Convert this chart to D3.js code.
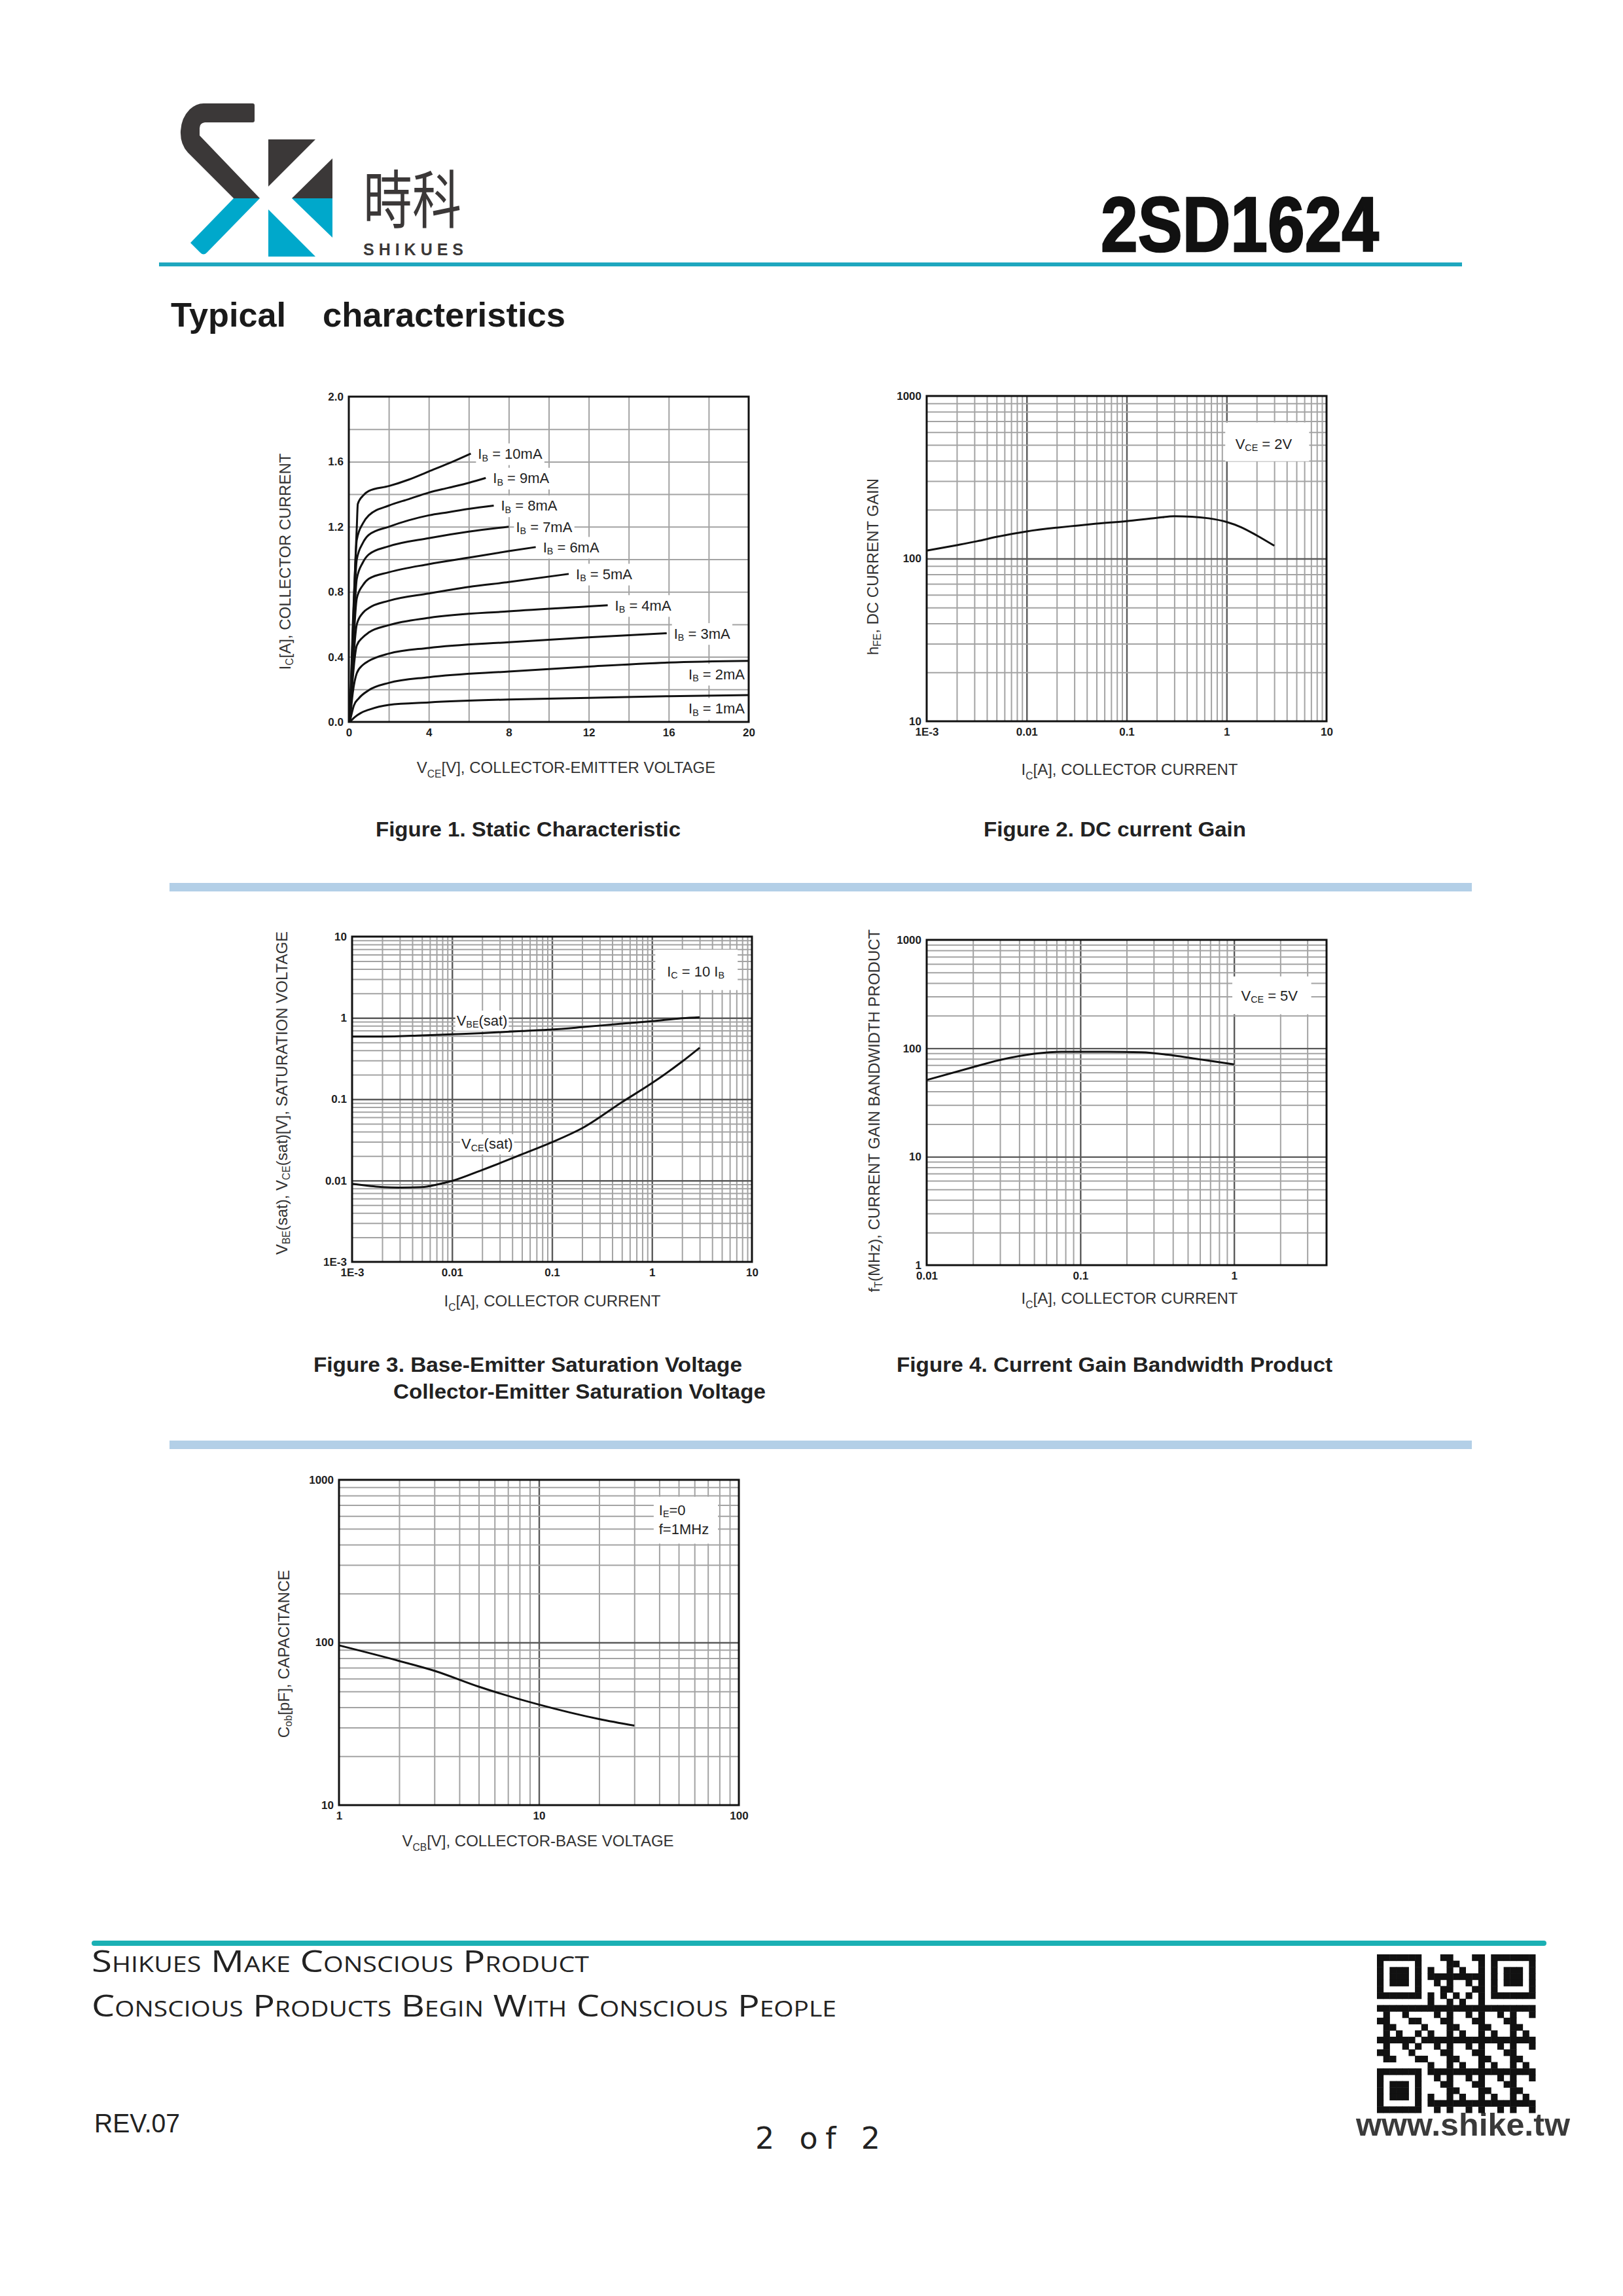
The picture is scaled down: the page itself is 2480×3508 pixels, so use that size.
<!DOCTYPE html>
<html>
<head>
<meta charset="utf-8">
<script src="https://cdn.jsdelivr.net/npm/d3@7"></script>
<style>
  html, body { margin: 0; padding: 0; background: #fff; }
  svg { display: block; }
</style>
</head>
<body>
<script>
// ---- values ----

// Figure 1: static characteristic, one curve per base current
const ibSteps = ["10mA", "9mA", "8mA", "7mA", "6mA", "5mA", "4mA", "3mA", "2mA", "1mA"];
const fig1Vce = [
  [0.05, 0.2, 0.4, 0.45, 0.7, 1, 2, 3, 4, 5, 6.1],
  [0.05, 0.2, 0.4, 0.7, 1, 2, 3, 4, 5, 6, 6.85],
  [0.05, 0.2, 0.4, 0.7, 1, 2, 3, 4, 5, 6, 7.25],
  [0.05, 0.2, 0.4, 0.7, 1, 2, 4, 6, 8],
  [0.05, 0.2, 0.4, 0.7, 1, 2, 4, 6, 8, 9.35],
  [0.05, 0.2, 0.4, 0.7, 1, 2, 4, 6, 8, 11],
  [0.05, 0.2, 0.4, 0.7, 1, 2, 4, 8, 12, 12.95],
  [0.05, 0.2, 0.4, 0.7, 1, 2, 4, 8, 12, 15.9],
  [0.05, 0.25, 0.5, 1, 2, 4, 8, 12, 16, 20],
  [0.05, 0.3, 0.6, 1, 2, 4, 8, 12, 16, 20]
];
const fig1Ic = [
  [0, 0.6, 1.2, 1.34, 1.39, 1.42, 1.45, 1.49, 1.54, 1.59, 1.65],
  [0, 0.55, 1.12, 1.22, 1.27, 1.33, 1.37, 1.41, 1.44, 1.47, 1.50],
  [0, 0.5, 1.0, 1.1, 1.15, 1.2, 1.24, 1.27, 1.29, 1.31, 1.33],
  [0, 0.45, 0.88, 0.98, 1.03, 1.08, 1.13, 1.17, 1.20],
  [0, 0.4, 0.76, 0.84, 0.88, 0.92, 0.97, 1.01, 1.05, 1.075],
  [0, 0.33, 0.6, 0.67, 0.70, 0.745, 0.79, 0.83, 0.86, 0.91],
  [0, 0.27, 0.47, 0.52, 0.55, 0.595, 0.64, 0.68, 0.71, 0.717],
  [0, 0.18, 0.30, 0.35, 0.375, 0.42, 0.455, 0.49, 0.52, 0.545],
  [0, 0.1, 0.145, 0.195, 0.24, 0.275, 0.31, 0.34, 0.365, 0.375],
  [0, 0.03, 0.055, 0.075, 0.105, 0.12, 0.138, 0.148, 0.158, 0.165]
];
const fig1XTicks = [0, 4, 8, 12, 16, 20];
const fig1XLabels = ["0", "4", "8", "12", "16", "20"];
const fig1YTicks = [0, 0.4, 0.8, 1.2, 1.6, 2.0];
const fig1YLabels = ["0.0", "0.4", "0.8", "1.2", "1.6", "2.0"];

// Figure 2: DC current gain
const fig2Ic = [0.001, 0.002, 0.0032, 0.005, 0.01, 0.02, 0.03, 0.05, 0.1, 0.2, 0.3, 0.45, 0.66, 1.0, 1.4, 2.0, 3.0];
const fig2Hfe = [112, 121, 128, 136, 147, 155, 159, 164, 170, 178, 182, 181, 177, 168, 156, 139, 120];

// Figure 3: saturation voltages
const fig3IcBe = [0.001, 0.002, 0.005, 0.01, 0.02, 0.05, 0.1, 0.2, 0.5, 1, 2, 3];
const fig3Vbe = [0.59, 0.59, 0.61, 0.63, 0.65, 0.69, 0.72, 0.77, 0.85, 0.91, 0.99, 1.02];
const fig3IcCe = [0.001, 0.0015, 0.002, 0.003, 0.005, 0.007, 0.01, 0.02, 0.05, 0.1, 0.2, 0.5, 1, 2, 3];
const fig3Vce = [0.0091, 0.0086, 0.0083, 0.0082, 0.0083, 0.0089, 0.0099, 0.0135, 0.021, 0.0296, 0.044, 0.092, 0.158, 0.29, 0.43];

// Figure 4: current gain bandwidth product
const fig4Ic = [0.01, 0.02, 0.03, 0.05, 0.075, 0.1, 0.15, 0.25, 0.4, 0.6, 1.0];
const fig4Ft = [51, 67, 78, 89, 93, 93, 93, 92, 86, 79, 71];

// Figure 5: output capacitance
const fig5Vcb = [1, 2, 3, 5, 10, 20, 30];
const fig5Cob = [96, 77, 67, 53.5, 41.5, 33.8, 30.8];

// log tick labels
const decadeTicks3 = [0.001, 0.01, 0.1, 1, 10];
const decadeLabels3 = ["1E-3", "0.01", "0.1", "1", "10"];

// ---- page ----
const W = 2480, H = 3508;
const PW = 611, PH = 497;
const FONT = "'Liberation Sans', Arial, Helvetica, sans-serif";

const svg = d3.select("body").append("svg")
  .attr("width", W).attr("height", H)
  .attr("viewBox", `0 0 ${W} ${H}`)
  .attr("font-family", FONT);

svg.append("rect").attr("width", W).attr("height", H).attr("fill", "#fff");

// text with subscripts: parts = [[text, isSub], ...]
function rich(sel, parts, fs) {
  let shift = 0;
  parts.forEach(([t, sub]) => {
    const want = sub ? fs * 0.3 : 0;
    sel.append("tspan")
      .attr("font-size", sub ? fs * 0.65 : fs)
      .attr("dy", want - shift)
      .text(t);
    shift = want;
  });
  return sel;
}

function whiteBehind(g, textSel, pad) {
  const b = textSel.node().getBBox();
  g.insert("rect", () => textSel.node())
    .attr("x", b.x - pad).attr("y", b.y - pad)
    .attr("width", b.width + 2 * pad).attr("height", b.height + 2 * pad)
    .attr("fill", "#fff");
}

function logLines(lo, hi) {
  const out = [];
  for (let e = Math.floor(Math.log10(lo)); e <= Math.ceil(Math.log10(hi)); e++) {
    for (let m = 1; m < 10; m++) {
      const v = +(m * Math.pow(10, e)).toPrecision(3);
      if (v > lo * 1.0001 && v < hi * 0.9999) out.push(v);
    }
  }
  return out;
}

function panel(left, top, x, y, opt) {
  const g = svg.append("g").attr("transform", `translate(${left},${top})`);

  const gx = g.append("g").attr("transform", `translate(0,${PH})`)
    .call(d3.axisBottom(x).tickValues(opt.xGrid).tickSize(-PH).tickFormat(""));
  const gy = g.append("g")
    .call(d3.axisLeft(y).tickValues(opt.yGrid).tickSize(-PW).tickFormat(""));
  [gx, gy].forEach(a => {
    a.select(".domain").remove();
    a.selectAll("line").attr("stroke", "#a3a3a3").attr("stroke-width", 2);
  });
  if (opt.major) {
    const dec = [0.001, 0.01, 0.1, 1, 10, 100, 1000];
    gx.selectAll(".tick").filter(d => dec.includes(d))
      .select("line").attr("stroke", "#5a5a5a").attr("stroke-width", 2.4);
    gy.selectAll(".tick").filter(d => dec.includes(d))
      .select("line").attr("stroke", "#5a5a5a").attr("stroke-width", 2.4);
  }

  const tx = g.append("g").attr("transform", `translate(0,${PH})`)
    .call(d3.axisBottom(x).tickValues(opt.xTicks).tickSize(0).tickPadding(10)
      .tickFormat((d, i) => opt.xLabels[i]));
  const ty = g.append("g")
    .call(d3.axisLeft(y).tickValues(opt.yTicks).tickSize(0).tickPadding(8)
      .tickFormat((d, i) => opt.yLabels[i]));
  [tx, ty].forEach(a => {
    a.select(".domain").remove();
    a.attr("font-family", FONT).attr("font-size", 17).attr("font-weight", "bold")
      .attr("color", "#1e1e1e");
  });
  return g;
}

function frame(g) {
  g.append("rect").attr("width", PW).attr("height", PH)
    .attr("fill", "none").attr("stroke", "#111").attr("stroke-width", 3);
}

function yTitle(cx, cy, parts) {
  const t = svg.append("text")
    .attr("transform", `translate(${cx},${cy}) rotate(-90)`)
    .attr("text-anchor", "middle").attr("dominant-baseline", "central")
    .attr("fill", "#333");
  rich(t, parts, 24);
}

function xTitle(cx, by, parts) {
  const t = svg.append("text").attr("x", cx).attr("y", by)
    .attr("text-anchor", "middle").attr("fill", "#333");
  rich(t, parts, 24);
}

function caption(x, by, txt, len) {
  svg.append("text").attr("x", x).attr("y", by)
    .attr("font-size", 31).attr("font-weight", "bold").attr("fill", "#222")
    .attr("textLength", len).attr("lengthAdjust", "spacingAndGlyphs")
    .text(txt);
}

function note(g, x, y, lines, box) {
  g.append("rect")
    .attr("x", x(box[0])).attr("y", y(box[3]))
    .attr("width", x(box[1]) - x(box[0])).attr("height", y(box[2]) - y(box[3]))
    .attr("fill", "#fff");
  lines.forEach(l => {
    const t = g.append("text").attr("x", x(l.at[0])).attr("y", y(l.at[1]))
      .attr("text-anchor", l.anchor || "middle").attr("dominant-baseline", "central")
      .attr("fill", "#222");
    rich(t, l.parts, 22);
  });
}

// ---- header ----
const logoDark = "#3b3838", logoCyan = "#00a8cb";
svg.append("path")
  .attr("d", "M311,158 L386,158 Q389,158 389,161 L389,184 Q389,187 386,187 L313,187 Q305,188 305,196 L305,207 L397,303 L357,303 L287,233 Q275,220 276,200 Q277,180 290,167 Q300,158 311,158 Z")
  .attr("fill", logoDark);
svg.append("path")
  .attr("d", "M357,303 L397,303 L316,386 Q311,391 306,386 L291,371 Z")
  .attr("fill", logoCyan);
svg.append("path").attr("d", "M410,213 L482,213 L410,285 Z").attr("fill", logoDark);
svg.append("path").attr("d", "M508,242 L508,303 L446,303 Z").attr("fill", logoDark);
svg.append("path").attr("d", "M446,303 L508,303 L508,363 Z").attr("fill", logoCyan);
svg.append("path").attr("d", "M410,320 L410,392 L482,392 Z").attr("fill", logoCyan);

svg.append("text").attr("x", 555).attr("y", 340)
  .attr("font-family", "'Noto Sans CJK TC', 'Noto Sans CJK SC', sans-serif")
  .attr("font-size", 96).attr("fill", logoDark)
  .attr("textLength", 150).attr("lengthAdjust", "spacingAndGlyphs")
  .text("時科");
svg.append("text").attr("x", 555).attr("y", 390)
  .attr("font-size", 25).attr("font-weight", "bold").attr("fill", logoDark)
  .attr("textLength", 153).attr("lengthAdjust", "spacing")
  .text("SHIKUES");

svg.append("text").attr("x", 1682).attr("y", 384)
  .attr("font-size", 118).attr("font-weight", "bold").attr("fill", "#111")
  .attr("stroke", "#111").attr("stroke-width", 2.5)
  .attr("textLength", 425).attr("lengthAdjust", "spacingAndGlyphs")
  .text("2SD1624");

svg.append("rect").attr("x", 243).attr("y", 401).attr("width", 1991).attr("height", 6)
  .attr("fill", "#1ea7bf");

svg.append("text").attr("x", 261).attr("y", 499)
  .attr("font-size", 52).attr("font-weight", "bold").attr("fill", "#1a1a1a")
  .attr("textLength", 176).attr("lengthAdjust", "spacingAndGlyphs")
  .text("Typical");
svg.append("text").attr("x", 493).attr("y", 499)
  .attr("font-size", 52).attr("font-weight", "bold").attr("fill", "#1a1a1a")
  .attr("textLength", 371).attr("lengthAdjust", "spacingAndGlyphs")
  .text("characteristics");

// section separators
[1349, 2201].forEach(yy => {
  svg.append("rect").attr("x", 259).attr("y", yy).attr("width", 1990).attr("height", 13)
    .attr("fill", "#b3cfe7");
});

const line = (x, y) => d3.line().x(d => x(d[0])).y(d => y(d[1])).curve(d3.curveMonotoneX);

// ---- Figure 1 ----
{
  const x = d3.scaleLinear().domain([0, 20]).range([0, PW]);
  const y = d3.scaleLinear().domain([0, 2]).range([PH, 0]);
  const g = panel(533, 606, x, y, {
    xGrid: d3.range(2, 20, 2), yGrid: d3.range(1, 10).map(i => i * 0.2),
    xTicks: fig1XTicks, xLabels: fig1XLabels, yTicks: fig1YTicks, yLabels: fig1YLabels
  });

  const labels = g.append("g");
  const curves = g.append("g");
  ibSteps.forEach((ib, k) => {
    const pts = fig1Vce[k].map((v, i) => [v, fig1Ic[k][i]]);
    curves.append("path").attr("d", line(x, y)(pts))
      .attr("fill", "none").attr("stroke", "#111").attr("stroke-width", 3);
    const last = pts[pts.length - 1];
    const t = labels.append("text").attr("dominant-baseline", "central").attr("fill", "#222");
    if (last[0] < 20) {
      t.attr("x", x(last[0]) + 11).attr("y", y(last[1]));
    } else {
      t.attr("x", PW - 6).attr("y", y(last[1]) + 20).attr("text-anchor", "end");
    }
    rich(t, [["I"], ["B", 1], [" = " + ib]], 22);
    whiteBehind(labels, t, 3);
  });
  frame(g);

  yTitle(435, 858, [["I"], ["C", 1], ["[A], COLLECTOR CURRENT"]]);
  xTitle(865, 1181, [["V"], ["CE", 1], ["[V], COLLECTOR-EMITTER VOLTAGE"]]);
  caption(574, 1278, "Figure 1. Static Characteristic", 466);
}

// ---- Figure 2 ----
{
  const x = d3.scaleLog().domain([0.001, 10]).range([0, PW]);
  const y = d3.scaleLog().domain([10, 1000]).range([PH, 0]);
  const g = panel(1416, 605, x, y, {
    xGrid: logLines(0.001, 10), yGrid: logLines(10, 1000), major: true,
    xTicks: decadeTicks3, xLabels: decadeLabels3,
    yTicks: [10, 100, 1000], yLabels: ["10", "100", "1000"]
  });
  note(g, x, y, [{ at: [2.35, 509], parts: [["V"], ["CE", 1], [" = 2V"]] }], [0.97, 6.7, 397, 687]);
  g.append("path").attr("d", line(x, y)(fig2Ic.map((c, i) => [c, fig2Hfe[i]])))
    .attr("fill", "none").attr("stroke", "#111").attr("stroke-width", 3);
  frame(g);

  yTitle(1333, 866, [["h"], ["FE", 1], [", DC CURRENT GAIN"]]);
  xTitle(1726, 1184, [["I"], ["C", 1], ["[A], COLLECTOR CURRENT"]]);
  caption(1503, 1278, "Figure 2. DC current Gain", 401);
}

// ---- Figure 3 ----
{
  const x = d3.scaleLog().domain([0.001, 10]).range([0, PW]);
  const y = d3.scaleLog().domain([0.001, 10]).range([PH, 0]);
  const g = panel(538, 1431, x, y, {
    xGrid: logLines(0.001, 10), yGrid: logLines(0.001, 10), major: true,
    xTicks: decadeTicks3, xLabels: decadeLabels3,
    yTicks: decadeTicks3, yLabels: decadeLabels3
  });
  note(g, x, y, [{ at: [2.74, 3.77], parts: [["I"], ["C", 1], [" = 10 I"], ["B", 1]] }], [1.08, 7.2, 2.2, 6.9]);
  const lb = g.append("g");
  const t1 = lb.append("text").attr("x", x(0.0111)).attr("y", y(0.94))
    .attr("dominant-baseline", "central").attr("fill", "#222");
  rich(t1, [["V"], ["BE", 1], ["(sat)"]], 22);
  whiteBehind(lb, t1, 2);
  const t2 = lb.append("text").attr("x", x(0.0124)).attr("y", y(0.0285))
    .attr("dominant-baseline", "central").attr("fill", "#222");
  rich(t2, [["V"], ["CE", 1], ["(sat)"]], 22);
  whiteBehind(lb, t2, 2);

  g.append("path").attr("d", line(x, y)(fig3IcBe.map((c, i) => [c, fig3Vbe[i]])))
    .attr("fill", "none").attr("stroke", "#111").attr("stroke-width", 3);
  g.append("path").attr("d", line(x, y)(fig3IcCe.map((c, i) => [c, fig3Vce[i]])))
    .attr("fill", "none").attr("stroke", "#111").attr("stroke-width", 3);
  frame(g);

  yTitle(430, 1670, [["V"], ["BE", 1], ["(sat), V"], ["CE", 1], ["(sat)[V], SATURATION VOLTAGE"]]);
  xTitle(844, 1996, [["I"], ["C", 1], ["[A], COLLECTOR CURRENT"]]);
  caption(479, 2096, "Figure 3. Base-Emitter Saturation Voltage", 655);
  caption(601, 2137, "Collector-Emitter Saturation Voltage", 569);
}

// ---- Figure 4 ----
{
  const x = d3.scaleLog().domain([0.01, 4]).range([0, PW]);
  const y = d3.scaleLog().domain([1, 1000]).range([PH, 0]);
  const g = panel(1416, 1436, x, y, {
    xGrid: logLines(0.01, 4), yGrid: logLines(1, 1000), major: true,
    xTicks: [0.01, 0.1, 1], xLabels: ["0.01", "0.1", "1"],
    yTicks: [1, 10, 100, 1000], yLabels: ["1", "10", "100", "1000"]
  });
  note(g, x, y, [{ at: [1.7, 308], parts: [["V"], ["CE", 1], [" = 5V"]] }], [0.975, 3.18, 206, 460]);
  g.append("path").attr("d", line(x, y)(fig4Ic.map((c, i) => [c, fig4Ft[i]])))
    .attr("fill", "none").attr("stroke", "#111").attr("stroke-width", 3);
  frame(g);

  yTitle(1335, 1697, [["f"], ["T", 1], ["(MHz), CURRENT GAIN BANDWIDTH PRODUCT"]]);
  xTitle(1726, 1992, [["I"], ["C", 1], ["[A], COLLECTOR CURRENT"]]);
  caption(1370, 2096, "Figure 4. Current Gain Bandwidth Product", 666);
}

// ---- Figure 5 ----
{
  const x = d3.scaleLog().domain([1, 100]).range([0, PW]);
  const y = d3.scaleLog().domain([10, 1000]).range([PH, 0]);
  const g = panel(518, 2261, x, y, {
    xGrid: logLines(1, 100), yGrid: logLines(10, 1000), major: true,
    xTicks: [1, 10, 100], xLabels: ["1", "10", "100"],
    yTicks: [10, 100, 1000], yLabels: ["10", "100", "1000"]
  });
  note(g, x, y, [
    { at: [39.8, 655], anchor: "start", parts: [["I"], ["E", 1], ["=0"]] },
    { at: [39.8, 497], anchor: "start", parts: [["f=1MHz"]] }
  ], [37.5, 78.6, 405, 787]);
  g.append("path").attr("d", line(x, y)(fig5Vcb.map((v, i) => [v, fig5Cob[i]])))
    .attr("fill", "none").attr("stroke", "#111").attr("stroke-width", 3);
  frame(g);

  yTitle(433, 2527, [["C"], ["ob", 1], ["[pF], CAPACITANCE"]]);
  xTitle(822, 2821, [["V"], ["CB", 1], ["[V], COLLECTOR-BASE VOLTAGE"]]);
}

// ---- footer ----
svg.append("rect").attr("x", 140).attr("y", 2965).attr("width", 2223).attr("height", 8)
  .attr("rx", 4).attr("fill", "#1bb0b4");

svg.append("text").attr("x", 140).attr("y", 3013)
  .attr("font-family", "'Open Sans', 'Noto Sans', sans-serif")
  .attr("font-size", 46).attr("font-variant", "small-caps").attr("fill", "#222")
  .attr("textLength", 760).attr("lengthAdjust", "spacingAndGlyphs")
  .text("Shikues Make Conscious Product");
svg.append("text").attr("x", 140).attr("y", 3081)
  .attr("font-family", "'Open Sans', 'Noto Sans', sans-serif")
  .attr("font-size", 46).attr("font-variant", "small-caps").attr("fill", "#222")
  .attr("textLength", 1138).attr("lengthAdjust", "spacingAndGlyphs")
  .text("Conscious Products Begin With Conscious People");

svg.append("text").attr("x", 144).attr("y", 3258)
  .attr("font-size", 40).attr("fill", "#222")
  .attr("textLength", 131).attr("lengthAdjust", "spacingAndGlyphs")
  .text("REV.07");

svg.append("text").attr("x", 1154).attr("y", 3283)
  .attr("font-family", "'DejaVu Sans', sans-serif")
  .attr("font-size", 46).attr("fill", "#222")
  .attr("textLength", 191).attr("lengthAdjust", "spacing")
  .text("2 of 2");

svg.append("text").attr("x", 2072).attr("y", 3263)
  .attr("font-size", 48).attr("font-weight", "bold").attr("fill", "#3a3a3a")
  .attr("textLength", 327).attr("lengthAdjust", "spacingAndGlyphs")
  .text("www.shike.tw");

// decorative QR block
{
  const n = 25, size = 242 / n;
  const qr = svg.append("g").attr("transform", "translate(2104,2986)");
  const finders = [[0, 0], [0, 18], [18, 0]];
  const cell = (r, c) => {
    for (const [r0, c0] of finders) {
      const rr = r - r0, cc = c - c0;
      if (rr >= 0 && rr < 7 && cc >= 0 && cc < 7)
        return rr === 0 || rr === 6 || cc === 0 || cc === 6 || (rr >= 2 && rr <= 4 && cc >= 2 && cc <= 4);
      if (rr >= -1 && rr <= 7 && cc >= -1 && cc <= 7) return false;
    }
    if (r === 6) return c % 2 === 0;
    if (c === 6) return r % 2 === 0;
    return ((r * 7 + c * 11 + r * c * 3) % 5) < 2;
  };
  for (let r = 0; r < n; r++) {
    for (let c = 0; c < n; c++) {
      if (cell(r, c)) {
        qr.append("rect").attr("x", c * size).attr("y", r * size)
          .attr("width", size + 0.5).attr("height", size + 0.5).attr("fill", "#111");
      }
    }
  }
}
</script>
</body>
</html>
